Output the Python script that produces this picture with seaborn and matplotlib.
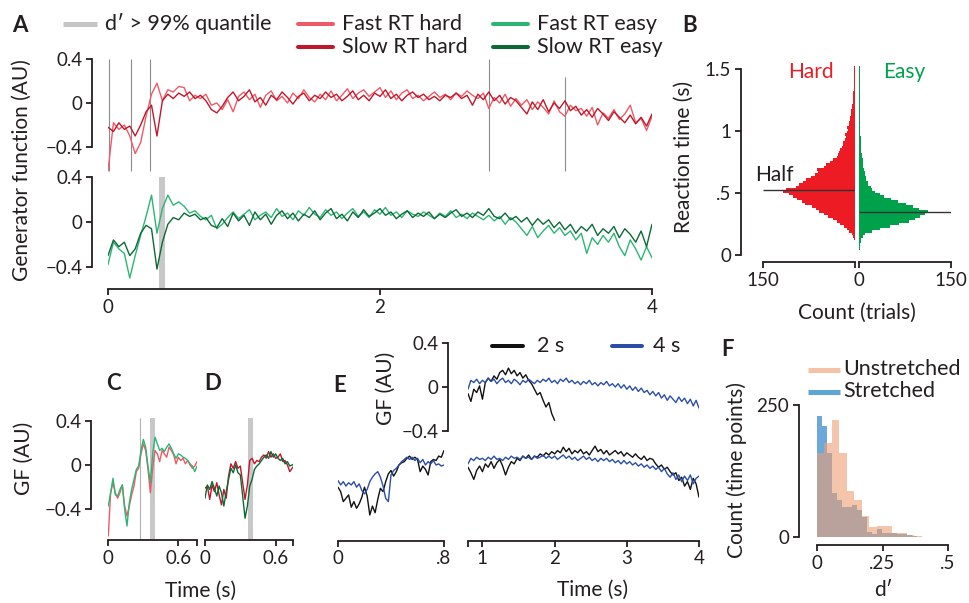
import numpy as np
import pandas as pd
import matplotlib
matplotlib.use("Agg")
import matplotlib.pyplot as plt
import seaborn as sns

# ---------------- data ----------------
# Panel A (generator function, 0-4 s)
t_A = np.round(np.arange(101) * 0.04, 2)
fast_hard = [-0.62, -0.18, -0.24, -0.20, -0.30, -0.46, -0.36, -0.12, 0.08, 0.18,
             0.02, 0.12, 0.10, 0.15, 0.14, 0.02, 0.07, 0.04, 0.08, -0.02,
             0.00, -0.06, 0.03, -0.08, 0.06, 0.10, 0.03, 0.08, -0.04, 0.07,
             0.11, 0.02, 0.06, 0.00, 0.09, 0.04, 0.12, 0.05, 0.01, 0.08,
             0.03, 0.11, 0.02, 0.07, 0.13, 0.04, 0.09, 0.12, 0.06, 0.10,
             0.14, 0.05, 0.11, 0.03, 0.09, 0.12, 0.04, 0.07, 0.02, 0.06,
             0.10, 0.05, 0.08, 0.03, 0.09, 0.06, 0.11, 0.07, 0.04, 0.09,
             -0.05, 0.05, 0.00, 0.08, -0.03, 0.04, -0.02, 0.03, -0.06, 0.01,
             -0.04, -0.10, 0.02, -0.08, -0.12, -0.02, -0.07, -0.05, -0.12, -0.04,
             -0.20, -0.09, -0.14, -0.06, -0.15, -0.10, -0.02, -0.18, -0.14, -0.25,
             -0.12]
slow_hard = [-0.22, -0.26, -0.18, -0.24, -0.21, -0.30, -0.20, -0.08, -0.02, -0.30,
             0.02, 0.08, 0.04, 0.09, 0.06, 0.10, 0.04, 0.07, 0.02, -0.06,
             -0.09, -0.03, 0.05, 0.10, 0.02, 0.06, 0.12, 0.01, 0.05, -0.02,
             0.07, 0.03, 0.10, 0.05, -0.01, 0.06, 0.09, 0.02, 0.07, 0.04,
             0.10, 0.05, 0.08, 0.02, 0.06, 0.11, 0.03, 0.07, 0.02, 0.09,
             0.06, 0.12, 0.04, 0.08, 0.02, 0.07, 0.10, 0.05, 0.08, 0.03,
             0.06, 0.02, 0.07, 0.05, 0.09, 0.04, 0.07, -0.02, 0.08, 0.03,
             0.10, 0.02, 0.07, -0.01, 0.05, 0.02, -0.04, -0.10, 0.01, -0.06,
             0.03, -0.08, 0.00, -0.05, 0.02, -0.07, -0.03, -0.11, -0.06, -0.13,
             -0.05, -0.10, -0.16, -0.08, -0.13, -0.18, -0.11, -0.19, -0.13, -0.21,
             -0.10]
fast_easy = [-0.38, -0.18, -0.24, -0.28, -0.50, -0.30, -0.12, 0.05, 0.24, -0.10,
             0.12, 0.24, 0.15, 0.18, 0.14, 0.08, 0.10, 0.05, 0.02, 0.06,
             -0.06, -0.02, 0.04, 0.09, 0.03, 0.07, 0.11, 0.02, 0.06, 0.09,
             0.04, 0.12, 0.05, 0.08, 0.02, 0.10, 0.06, 0.13, 0.07, 0.04,
             0.11, 0.06, 0.09, 0.03, 0.08, 0.12, 0.05, 0.09, 0.04, 0.11,
             0.07, 0.13, 0.06, 0.09, 0.04, 0.10, 0.07, 0.05, 0.09, 0.06,
             0.03, 0.08, 0.05, 0.10, 0.04, 0.07, 0.03, 0.08, 0.05, 0.02,
             0.06, 0.01, 0.05, -0.02, 0.04, 0.00, -0.06, -0.12, -0.04, -0.14,
             -0.08, -0.03, -0.10, -0.05, -0.12, -0.08, -0.16, -0.10, -0.28, -0.14,
             -0.20, -0.12, -0.18, -0.10, -0.22, -0.30, -0.16, -0.24, -0.34, -0.22,
             -0.32]
slow_easy = [-0.30, -0.16, -0.22, -0.18, -0.30, -0.24, -0.10, -0.03, -0.06, -0.42,
             -0.18, -0.02, 0.04, 0.02, 0.08, 0.05, 0.07, 0.02, 0.04, -0.03,
             -0.05, 0.03, -0.04, 0.08, 0.01, 0.06, -0.03, 0.09, 0.02, 0.07,
             -0.02, 0.06, 0.10, 0.03, 0.08, 0.01, 0.07, 0.04, 0.10, 0.02,
             0.08, 0.12, 0.03, 0.07, 0.01, 0.09, 0.04, 0.11, 0.05, 0.08,
             0.12, 0.06, 0.09, 0.03, 0.07, 0.10, 0.04, 0.08, 0.05, 0.09,
             0.03, 0.07, 0.04, 0.08, 0.11, 0.05, 0.08, 0.04, 0.09, 0.06,
             0.12, 0.05, 0.03, 0.08, 0.02, 0.05, 0.00, 0.04, -0.03, 0.03,
             -0.02, 0.02, -0.05, 0.00, -0.07, -0.02, -0.10, -0.04, -0.08, -0.02,
             -0.12, -0.06, -0.10, -0.04, -0.14, -0.06, -0.11, -0.18, -0.08, -0.22,
             -0.02]
vline_t = [0.007, 0.17, 0.31, 2.80, 3.36]
vline_top = [0.40, 0.40, 0.40, 0.40, 0.24]
shade_A = (0.375, 0.42)

# Panel B (reaction time histograms, bins of 0.02 s starting at 0.04 s)
rt_start, rt_step = 0.04, 0.02
hard_counts = [0, 0, 0, 0, 1, 3, 5, 9, 13, 18, 24, 30, 36, 44, 50, 58, 63, 70, 82, 86,
               95, 101, 108, 117, 112, 96, 92, 84, 80, 72, 66, 60, 62, 50, 48, 40, 36, 30,
               28, 26, 24, 22, 20, 19, 17, 15, 16, 13, 12, 13, 10, 9, 8, 8, 7, 6, 6, 5, 5,
               4, 4, 3, 3, 3, 2, 2, 2, 2, 1, 1, 1, 1, 1, 1]
easy_counts = [1, 2, 2, 3, 4, 6, 10, 22, 35, 50, 65, 82, 92, 100, 108, 112, 98, 88, 76,
               64, 52, 41, 34, 26, 22, 19, 15, 14, 12, 11, 10, 9, 8, 7, 7, 6, 6, 5, 5, 4,
               4, 4, 3, 3, 3, 3, 2, 2, 2, 2, 2, 2, 2, 1, 2, 1, 1, 2, 1, 1, 1, 1, 1, 1, 1,
               1, 1, 1, 1, 1, 1, 1, 1, 1]
hard_half = 0.524
easy_half = 0.347

# Panels C, D (0-0.76 s)
t_CD = np.round(np.arange(39) * 0.02, 2)
C_hard = [-0.64, -0.25, -0.16, -0.25, -0.30, -0.25, -0.18, -0.37, -0.46, -0.37,
          -0.27, -0.19, -0.06, -0.03, 0.10, 0.19, 0.13, -0.04, -0.25, -0.03,
          0.13, 0.10, 0.03, 0.13, 0.10, 0.07, 0.16, 0.13, 0.09, 0.01,
          0.07, 0.04, 0.06, 0.01, 0.04, 0.00, -0.03, -0.01, 0.03]
C_easy = [-0.37, -0.25, -0.12, -0.27, -0.28, -0.22, -0.18, -0.40, -0.55, -0.34,
          -0.22, -0.13, -0.04, -0.01, 0.13, 0.23, 0.16, -0.01, -0.16, 0.10,
          0.25, 0.19, 0.13, 0.15, 0.12, 0.16, 0.19, 0.15, 0.10, 0.06,
          0.10, 0.09, 0.07, 0.06, 0.04, 0.01, -0.01, -0.06, -0.01]
D_hard = [-0.21, -0.19, -0.31, -0.18, -0.24, -0.16, -0.27, -0.36, -0.22, -0.30,
          -0.10, 0.01, -0.03, 0.03, -0.03, -0.01, -0.16, -0.31, -0.18, 0.04,
          0.06, 0.01, 0.04, 0.03, 0.07, 0.09, 0.06, 0.12, 0.07, 0.10,
          0.06, 0.07, 0.10, 0.03, 0.04, 0.00, -0.06, -0.03, 0.00]
D_easy = [-0.30, -0.18, -0.22, -0.15, -0.21, -0.28, -0.19, -0.25, -0.37, -0.24,
          -0.13, -0.03, -0.07, 0.00, -0.07, -0.09, -0.28, -0.48, -0.37, -0.19,
          -0.13, -0.04, -0.01, 0.01, 0.04, 0.07, 0.09, 0.06, 0.12, 0.07,
          0.10, 0.06, 0.04, 0.06, 0.01, 0.03, -0.01, 0.00, 0.01]
C_vline = 0.27
C_shade = (0.36, 0.40)
D_shade = (0.362, 0.41)

# Panel E
t_E_top2 = np.round(0.8 + np.arange(31) * 0.04, 2)
E_top_2s = [-0.06, -0.13, -0.02, -0.05, 0.01, -0.11, 0.04, 0.08, 0.05, 0.10,
            0.07, 0.13, 0.15, 0.11, 0.17, 0.12, 0.15, 0.10, 0.13, 0.08,
            0.11, 0.06, 0.03, -0.02, -0.07, -0.05, -0.12, -0.18, -0.14, -0.24,
            -0.30]
t_E_right = np.round(0.8 + np.arange(81) * 0.04, 2)
E_top_4s = [-0.02, 0.06, 0.04, 0.07, 0.03, 0.06, 0.04, 0.08, 0.05, 0.07,
            0.03, 0.06, 0.08, 0.04, 0.06, 0.03, 0.07, 0.05, 0.02, 0.06,
            0.04, 0.07, 0.05, 0.03, 0.06, 0.04, 0.07, 0.05, 0.08, 0.04,
            0.06, 0.03, 0.07, 0.05, 0.08, 0.04, 0.06, 0.03, 0.05, 0.02,
            0.05, 0.03, 0.06, 0.02, 0.04, 0.01, 0.04, 0.02, 0.05, 0.01,
            0.03, 0.00, 0.03, -0.01, 0.02, -0.02, 0.01, -0.03, 0.00, -0.04,
            -0.01, -0.05, -0.03, -0.07, -0.04, -0.08, -0.05, -0.10, -0.07, -0.12,
            -0.08, -0.11, -0.14, -0.09, -0.13, -0.10, -0.15, -0.11, -0.17, -0.12,
            -0.19]
E_bot_2s = [-0.05, -0.10, -0.16, -0.08, -0.04, -0.09, -0.02, -0.05, 0.00, -0.06,
            -0.01, 0.02, -0.04, -0.12, -0.05, 0.00, -0.02, 0.03, 0.01, 0.05,
            0.03, 0.06, 0.02, 0.05, 0.04, 0.07, 0.05, 0.08, 0.06, 0.09,
            0.07, 0.10, 0.08, 0.13, 0.09, 0.12, 0.07, 0.10, 0.08, 0.11,
            0.07, 0.09, 0.06, 0.10, 0.14, 0.09, 0.11, 0.07, 0.10, 0.06,
            0.08, 0.10, 0.07, 0.09, 0.05, 0.08, 0.06, 0.04, 0.07, 0.04,
            0.02, 0.05, 0.01, 0.03, 0.02, -0.02, -0.05, -0.03, -0.07, -0.05,
            -0.09, -0.12, -0.10, -0.17, -0.14, -0.22, -0.18, -0.25, -0.15, -0.20,
            -0.32]
E_bot_4s = [-0.02, 0.03, 0.01, 0.04, 0.02, 0.03, 0.01, 0.04, 0.02, 0.05,
            0.02, 0.03, 0.01, 0.04, 0.02, 0.05, 0.03, 0.04, 0.02, 0.05,
            0.03, 0.04, 0.02, 0.05, 0.03, 0.04, 0.06, 0.03, 0.05, 0.03,
            0.05, 0.02, 0.04, 0.06, 0.03, 0.05, 0.02, 0.04, 0.01, 0.03,
            0.05, 0.02, 0.04, 0.01, 0.03, 0.00, 0.03, 0.01, 0.03, 0.00,
            0.02, -0.01, 0.01, -0.02, 0.01, -0.02, 0.00, -0.03, -0.01, -0.04,
            -0.02, -0.05, -0.03, -0.06, -0.04, -0.07, -0.05, -0.09, -0.06, -0.11,
            -0.14, -0.10, -0.16, -0.12, -0.18, -0.13, -0.17, -0.12, -0.20, -0.15,
            -0.13]
t_E_left = np.round(np.arange(41) * 0.02, 2)
E_left_4s = [-0.17, -0.21, -0.18, -0.22, -0.19, -0.21, -0.18, -0.23, -0.20, -0.26,
             -0.29, -0.25, -0.18, -0.14, -0.11, -0.09, -0.14, -0.22, -0.33, -0.36,
             -0.12, -0.08, -0.06, -0.03, 0.00, 0.02, 0.04, 0.02, 0.04, 0.01,
             0.03, -0.01, 0.02, -0.03, 0.00, -0.02, 0.01, -0.03, -0.02, -0.04,
             -0.03]
E_left_2s = [-0.23, -0.27, -0.36, -0.33, -0.30, -0.41, -0.36, -0.42, -0.38, -0.32,
             -0.23, -0.31, -0.48, -0.40, -0.46, -0.34, -0.24, -0.27, -0.18, -0.11,
             -0.08, -0.13, -0.09, -0.03, -0.01, 0.00, 0.03, 0.05, 0.02, 0.04,
             0.02, -0.09, -0.04, -0.07, -0.12, 0.00, 0.02, 0.01, 0.05, 0.04,
             0.10]

# Panel F (d' histograms)
unstretched_width = 0.0286
unstretched_counts = [160, 179, 222, 160, 87, 70, 39, 18, 21, 21, 8, 8, 3, 1]
stretched_width = 0.019
stretched_counts = [229, 210, 160, 84, 70, 57, 57, 61, 52, 37, 10, 5, 16, 7, 7, 7, 6, 6, 4, 2]

# ---------------- styling ----------------
sns.set_theme(style="ticks")
plt.rcParams["font.family"] = ["Lato", "DejaVu Sans"]
TXT = "#231f20"
plt.rcParams.update({
    "text.color": TXT, "axes.labelcolor": TXT, "xtick.color": TXT, "ytick.color": TXT,
    "axes.edgecolor": "#231f20", "axes.linewidth": 1.3,
    "xtick.major.width": 1.3, "ytick.major.width": 1.3,
    "xtick.major.size": 4, "ytick.major.size": 4,
    "xtick.major.pad": 3, "ytick.major.pad": 3,
    "xtick.labelsize": 13.5, "ytick.labelsize": 13.5,
})

C_FH, C_SH = "#ef5a66", "#c1172c"
C_FE, C_SE = "#2db573", "#0c6a36"
C_HARD, C_EASY = "#ed1c24", "#00a14b"
C_SHADE, C_VL = "#c8c8c8", "#8c8c8c"
C_2S, C_4S = "#111111", "#2c4ea6"

W, H = 969, 603
fig = plt.figure(figsize=(W / 100, H / 100), dpi=100)


def add_ax(x0, y0, x1, y1):
    return fig.add_axes([x0 / W, 1 - y1 / H, (x1 - x0) / W, (y1 - y0) / H])


def pt(px):
    return px * 72 / 100


def style(ax, left=True, bottom=True, left_off=0, bottom_off=0):
    ax.patch.set_alpha(0)
    for s in ["top", "right"]:
        ax.spines[s].set_visible(False)
    ax.spines["left"].set_visible(left)
    ax.spines["bottom"].set_visible(bottom)
    if left:
        ax.spines["left"].set_position(("outward", pt(left_off)))
    else:
        ax.set_yticks([])
    if bottom:
        ax.spines["bottom"].set_position(("outward", pt(bottom_off)))
    else:
        ax.set_xticks([])
    ax.set_xlabel("")
    ax.set_ylabel("")


def line(ax, x, y, color, lw=1.0):
    sns.lineplot(x=list(x), y=list(y), ax=ax, color=color, linewidth=lw, legend=False)


def hist(ax, centers, counts, edges, orient="x", **kw):
    df = pd.DataFrame({"v": list(centers), "n": list(counts)})
    if orient == "y":
        sns.histplot(data=df, y="v", weights="n", bins=list(edges), ax=ax, **kw)
    else:
        sns.histplot(data=df, x="v", weights="n", bins=list(edges), ax=ax, **kw)


gf_ticks = [-0.4, 0, 0.4]
gf_labels = ["\u22120.4", "0", "0.4"]

# ---- Panel A ----
axA1 = add_ax(108, 58, 652, 177)
line(axA1, t_A, fast_hard, C_FH)
line(axA1, t_A, slow_hard, C_SH)
axA1.vlines(vline_t, -0.62, vline_top, color=C_VL, lw=0.8, zorder=0)
axA1.set_xlim(0, 4)
axA1.set_ylim(-0.673, 0.409)
style(axA1, bottom=False, left_off=16)
axA1.spines["left"].set_bounds(-0.4, 0.4)
axA1.set_yticks(gf_ticks, gf_labels)

axA2 = add_ax(108, 177, 652, 289)
A2_lo, A2_hi = -0.598, 0.402
axA2.axvspan(*shade_A, ymin=0, ymax=(0.4 - A2_lo) / (A2_hi - A2_lo), color=C_SHADE, lw=0, zorder=0)
line(axA2, t_A, fast_easy, C_FE)
line(axA2, t_A, slow_easy, C_SE)
axA2.set_xlim(0, 4)
axA2.set_ylim(A2_lo, A2_hi)
style(axA2, left_off=16)
axA2.spines["left"].set_bounds(-0.4, 0.4)
axA2.set_yticks(gf_ticks, gf_labels)
axA2.set_xticks([0, 2, 4], ["0", "2", "4"])

# ---- Panel B ----
rt_edges_h = rt_start + rt_step * np.arange(len(hard_counts) + 1)
rt_edges_e = rt_start + rt_step * np.arange(len(easy_counts) + 1)

axBh = add_ax(763, 66.5, 855, 255)
hist(axBh, rt_edges_h[:-1] + rt_step / 2, hard_counts, rt_edges_h, orient="y",
     color=C_HARD, alpha=1, linewidth=0)
axBh.hlines(hard_half, 0, 150, color="#333333", lw=1)
axBh.set_xlim(150, 0)
axBh.set_ylim(0, 1.52)
style(axBh, left_off=22, bottom_off=7)
axBh.spines["left"].set_bounds(0, 1.5)
axBh.spines["bottom"].set_bounds(0, 150)
axBh.set_yticks([0, 0.5, 1, 1.5], ["0", ".5", "1", "1.5"])
axBh.set_xticks([150, 0], ["150", ""])

axBe = add_ax(859, 66.5, 951, 255)
hist(axBe, rt_edges_e[:-1] + rt_step / 2, easy_counts, rt_edges_e, orient="y",
     color=C_EASY, alpha=1, linewidth=0)
axBe.hlines(easy_half, 0, 150, color="#333333", lw=1)
axBe.set_xlim(0, 150)
axBe.set_ylim(0, 1.52)
style(axBe, left=False, bottom_off=7)
axBe.spines["bottom"].set_bounds(0, 150)
axBe.set_xticks([0, 150], ["0", "150"])

# ---- Panels C, D ----
CD_lo, CD_hi = -0.676, 0.477
shade_top = (0.426 - CD_lo) / (CD_hi - CD_lo)

axC = add_ax(108.3, 412, 196.7, 540)
axC.axvspan(*C_shade, ymin=0, ymax=shade_top, color=C_SHADE, lw=0, zorder=0)
axC.vlines(C_vline, CD_lo, 0.426, color="#b0b0b0", lw=0.8, zorder=0)
line(axC, t_CD, C_hard, C_FH)
line(axC, t_CD, C_easy, C_FE)
axC.set_xlim(0, 0.757)
axC.set_ylim(CD_lo, CD_hi)
style(axC, left_off=17)
axC.spines["left"].set_bounds(-0.4, 0.4)
axC.set_yticks(gf_ticks, gf_labels)
axC.set_xticks([0, 0.6, 0.757], ["0", "0.6", ""])

axD = add_ax(205, 412, 293.3, 540)
axD.axvspan(*D_shade, ymin=0, ymax=shade_top, color=C_SHADE, lw=0, zorder=0)
line(axD, t_CD, D_hard, C_SH)
line(axD, t_CD, D_easy, C_SE)
axD.set_xlim(0, 0.75)
axD.set_ylim(CD_lo, CD_hi)
style(axD, left=False)
axD.set_xticks([0, 0.6, 0.75], ["0", "0.6", ""])

# ---- Panel E ----
axEt = add_ax(468, 336, 699, 440)
line(axEt, t_E_top2, E_top_2s, C_2S)
line(axEt, t_E_right, E_top_4s, C_4S)
axEt.set_xlim(0.8, 4.0)
axEt.set_ylim(-0.477, 0.459)
style(axEt, bottom=False, left_off=20)
axEt.spines["left"].set_bounds(-0.4, 0.4)
axEt.set_yticks(gf_ticks, gf_labels)

E_lo, E_hi = -0.712, 0.195
axEr = add_ax(468, 440, 699, 540.7)
line(axEr, t_E_right, E_bot_2s, C_2S)
line(axEr, t_E_right, E_bot_4s, C_4S)
axEr.set_xlim(0.8, 4.0)
axEr.set_ylim(E_lo, E_hi)
style(axEr, left=False)
axEr.set_xticks([0.8, 1, 2, 3, 4], ["", "1", "2", "3", "4"])

axEl = add_ax(338, 440, 444, 540.7)
line(axEl, t_E_left, E_left_2s, C_2S)
line(axEl, t_E_left, E_left_4s, C_4S)
axEl.set_xlim(0, 0.8)
axEl.set_ylim(E_lo, E_hi)
style(axEl, left=False)
axEl.set_xticks([0, 0.8], ["0", ".8"])

# ---- Panel F ----
un_edges = unstretched_width * np.arange(len(unstretched_counts) + 1)
st_edges = stretched_width * np.arange(len(stretched_counts) + 1)
axF = add_ax(817, 395, 948, 537)
hist(axF, st_edges[:-1] + stretched_width / 2, stretched_counts, st_edges,
     color="#0a6ec0", alpha=0.6, linewidth=0)
hist(axF, un_edges[:-1] + unstretched_width / 2, unstretched_counts, un_edges,
     color="#ee9f72", alpha=0.6, linewidth=0)
axF.set_xlim(0, 0.5)
axF.set_ylim(0, 269)
style(axF, left_off=18, bottom_off=8)
axF.spines["left"].set_bounds(0, 250)
axF.set_yticks([0, 250], ["0", "250"])
axF.set_xticks([0, 0.25, 0.5], ["0", ".25", ".5"])

# ---- overlay for texts / legends ----
ov = fig.add_axes([0, 0, 1, 1], zorder=10)
ov.set_xlim(0, W)
ov.set_ylim(H, 0)
ov.axis("off")
ov.patch.set_alpha(0)

LAB = 15
LEG = 15.5
LET = 16


def txt(x, y, s, size=LAB, **kw):
    kw.setdefault("ha", "center")
    kw.setdefault("va", "center")
    ov.text(x, y, s, fontsize=size, **kw)


for x, y, s in [(20, 25, "A"), (690, 25, "B"), (113, 383, "C"), (213, 383, "D"),
                (340, 385, "E"), (728, 350, "F")]:
    txt(x, y, s, size=LET, fontweight="bold")

# legend A
ov.plot([63, 97], [24, 24], color="#c4c4c4", lw=pt(5), solid_capstyle="butt")
txt(105, 24, "d\u2032 > 99% quantile", size=LEG, ha="left")
for (x0, y, col, lab) in [(298, 24, C_FH, "Fast RT hard"), (298, 47, C_SH, "Slow RT hard"),
                          (493, 24, C_FE, "Fast RT easy"), (493, 47, C_SE, "Slow RT easy")]:
    ov.plot([x0, x0 + 35], [y, y], color=col, lw=pt(4), solid_capstyle="round")
    txt(x0 + 44, y, lab, size=LEG, ha="left")

txt(22, 170, "Generator function (AU)", rotation=90)
txt(684, 157, "Reaction time (s)", rotation=90)
txt(857, 313, "Count (trials)")
txt(774, 175, "Half", ha="center")
txt(811, 72, "Hard", color=C_HARD)
txt(904, 72, "Easy", color=C_EASY)

txt(24, 458, "GF (AU)", rotation=90)
txt(201, 591, "Time (s)")

ov.plot([492, 523], [346, 346], color=C_2S, lw=pt(4), solid_capstyle="round")
txt(537, 346, "2 s", size=LEG, ha="left")
ov.plot([612, 642], [346, 346], color=C_4S, lw=pt(4), solid_capstyle="round")
txt(653, 346, "4 s", size=LEG, ha="left")
txt(386, 388, "GF (AU)", rotation=90)
txt(593, 590, "Time (s)")

ov.plot([808, 840], [370, 370], color="#f4c2a6", lw=pt(5), solid_capstyle="butt")
txt(843, 369, "Unstretched", size=LEG, ha="left")
ov.plot([808, 840], [392, 392], color="#5ea6d8", lw=pt(5), solid_capstyle="butt")
txt(843, 391, "Stretched", size=LEG, ha="left")
txt(737, 470, "Count (time points)", rotation=90)
txt(883, 590, "d\u2032")

fig.savefig("out.png", dpi=100)
